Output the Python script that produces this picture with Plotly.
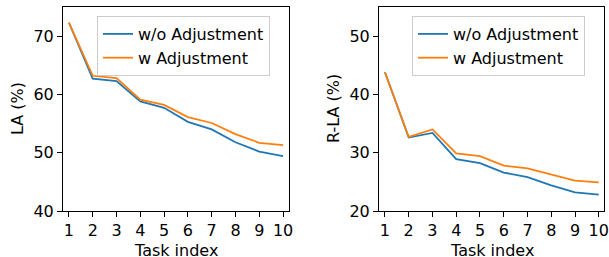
import plotly.graph_objects as go

tasks = [1, 2, 3, 4, 5, 6, 7, 8, 9, 10]
la_wo = [72.3, 62.7, 62.3, 58.8, 57.7, 55.3, 54.0, 51.8, 50.2, 49.4]
la_w = [72.3, 63.2, 62.8, 59.1, 58.2, 56.1, 55.1, 53.2, 51.7, 51.3]
rla_wo = [43.8, 32.6, 33.4, 28.9, 28.2, 26.6, 25.8, 24.4, 23.2, 22.8]
rla_w = [43.8, 32.7, 34.0, 29.9, 29.4, 27.8, 27.3, 26.2, 25.2, 24.9]
series_names = ["w/o Adjustment", "w Adjustment"]
x_title = "Task index"
y_titles = ["LA (%)", "R-LA (%)"]
colors = ["#1f77b4", "#ff7f0e"]

W, H = 609, 257
ML, MR, MT, MB = 63, 5, 7, 46
IW = W - ML - MR
IH = H - MT - MB
font = "DejaVu Sans"
FS = 16


def px_x(p):
    return (p - ML) / IW


def px_y(p):
    return (H - MB - p) / IH


fig = go.Figure()
for i, (ys, nm) in enumerate(zip([la_wo, la_w], series_names)):
    fig.add_trace(go.Scatter(x=tasks, y=ys, mode="lines", name=nm,
                             line=dict(color=colors[i], width=1.8),
                             xaxis="x", yaxis="y", legend="legend"))
for i, (ys, nm) in enumerate(zip([rla_wo, rla_w], series_names)):
    fig.add_trace(go.Scatter(x=tasks, y=ys, mode="lines", name=nm,
                             line=dict(color=colors[i], width=1.8),
                             xaxis="x2", yaxis="y2", legend="legend2"))

common = dict(showline=True, mirror=True, linecolor="black", linewidth=1,
              ticks="outside", ticklen=5, tickcolor="black", showgrid=False,
              zeroline=False, automargin=False,
              tickfont=dict(size=FS, color="black", family=font))

leg = dict(xanchor="left", yanchor="top",
           bgcolor="rgba(255,255,255,0.8)", bordercolor="#cccccc", borderwidth=1,
           font=dict(size=FS, family=font, color="black"))

tfont = dict(size=FS, color="black", family=font)
annotations = [
    dict(text=x_title, x=px_x(176), y=px_y(250.5), xref="paper", yref="paper",
         xanchor="center", yanchor="middle", showarrow=False, font=tfont),
    dict(text=x_title, x=px_x(491.5), y=px_y(250.5), xref="paper", yref="paper",
         xanchor="center", yanchor="middle", showarrow=False, font=tfont),
    dict(text=y_titles[0], x=px_x(17), y=px_y(109), xref="paper", yref="paper",
         xanchor="center", yanchor="middle", showarrow=False, textangle=-90, font=tfont),
    dict(text=y_titles[1], x=px_x(333), y=px_y(109), xref="paper", yref="paper",
         xanchor="center", yanchor="middle", showarrow=False, textangle=-90, font=tfont),
]

fig.update_layout(
    width=W, height=H, margin=dict(l=ML, r=MR, t=MT, b=MB, autoexpand=False),
    plot_bgcolor="white", paper_bgcolor="white",
    font=dict(family=font, size=FS, color="black"),
    xaxis=dict(domain=[0, px_x(289)], range=[0.75, 10.25], tickvals=tasks,
               ticklabelstandoff=0, anchor="y", **common),
    yaxis=dict(domain=[0, 1], range=[40, 75], tickvals=[40, 50, 60, 70],
               anchor="x", **common),
    xaxis2=dict(domain=[px_x(379), 1], range=[0.75, 10.22], tickvals=tasks,
                ticklabelstandoff=0, anchor="y2", **common),
    yaxis2=dict(domain=[0, 1], range=[20, 55], tickvals=[20, 30, 40, 50],
                anchor="x2", **common),
    legend=dict(x=px_x(97), y=px_y(16), **leg),
    legend2=dict(x=px_x(412), y=px_y(16), **leg),
    annotations=annotations,
)

fig.write_html("out.html", config={"displayModeBar": False},
               post_script="document.body.style.margin='0';document.body.style.overflow='hidden';")
